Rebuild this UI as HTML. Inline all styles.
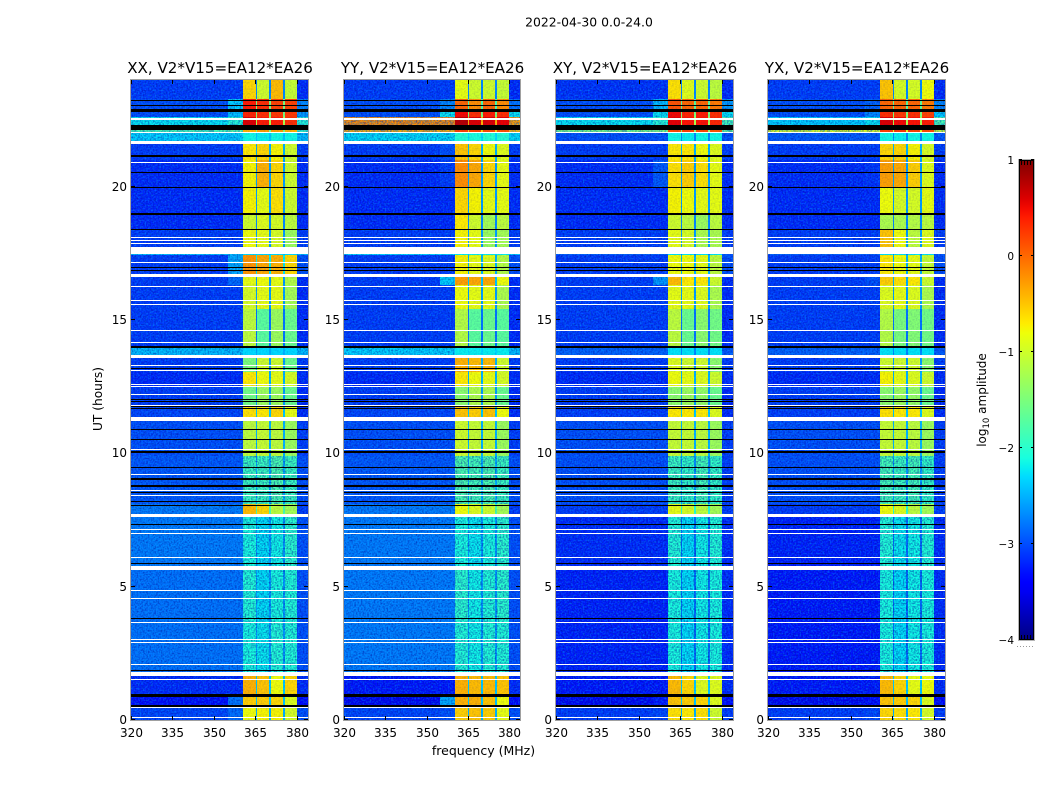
<!DOCTYPE html>
<html>
<head>
<meta charset="utf-8">
<title>2022-04-30 0.0-24.0</title>
<style>
html,body{margin:0;padding:0;background:#fff;}
svg{display:block;}
text{font-family:"DejaVu Sans","Liberation Sans",sans-serif;fill:#000;}
</style>
</head>
<body>
<svg id="chart" xmlns="http://www.w3.org/2000/svg" width="1050" height="800" viewBox="0 0 1050 800">
  <defs>
    <filter id="grain" x="0" y="0" width="100%" height="100%" color-interpolation-filters="sRGB">
      <feTurbulence type="fractalNoise" baseFrequency="0.62" numOctaves="1" seed="4"/>
      <feColorMatrix type="matrix" values="0 0 0 0 0  0 0 0 0 0.05  0 0 0 0 0.6  2.4 0 0 0 -0.95"/>
    </filter>
    <filter id="grain-light" x="0" y="0" width="100%" height="100%" color-interpolation-filters="sRGB">
      <feTurbulence type="fractalNoise" baseFrequency="0.6" numOctaves="1" seed="11"/>
      <feColorMatrix type="matrix" values="0 0 0 0 0  0 0 0 0 0.62  0 0 0 0 1  2.6 0 0 0 -1.15"/>
    </filter>
    <linearGradient id="jet-gradient" x1="0" y1="1" x2="0" y2="0"></linearGradient>
  </defs>
  <text x="589" y="26.5" font-size="12.4" text-anchor="middle">2022-04-30 0.0-24.0</text>
  <text x="483.5" y="755" font-size="12.5" text-anchor="middle">frequency (MHz)</text>
  <text transform="translate(102,399) rotate(-90)" font-size="12.2" text-anchor="middle">UT (hours)</text>
  <text transform="translate(986,400) rotate(-90)" font-size="12" text-anchor="middle">log<tspan font-size="8.5" dy="3">10</tspan><tspan dy="-3"> amplitude</tspan></text>
</svg>
<script>
// Data: UT edges of each block of rows (hours)
const rowEdges = [0,0.5,0.9,1.7,3.7,5.7,7.65,8.1,9.9,11.2,11.8,12.5,13.05,13.58,13.95,15.4,16.3,16.7,17.45,17.75,18.4,19,20,21,21.65,22.05,22.3,22.6,22.9,23.3,24];
// Data: frequency zones (MHz)
const zoneEdges = [320,355,360.5,365.1,365.6,369.9,370.6,374.9,375.7,380,384];
// Data: log10 amplitude per row: [background, shoulder, band1, band2, band3, band4, gap, right edge]
const xxValues = [
[-3.05,-2.85,-0.8,-0.75,-0.75,-0.95,-2.5,-3.0],
[-3.35,-2.8,-0.55,-0.55,-0.6,-0.9,-2.4,-3.4],
[-3.2,-3.2,-0.4,-0.5,-0.8,-0.6,-2.4,-3.2],
[-2.8,-2.8,-2.1,-2.2,-2.05,-2.05,-2.6,-3.0],
[-2.8,-2.8,-2.05,-2.25,-2.1,-2.05,-2.6,-3.0],
[-2.75,-2.75,-2.1,-2.25,-2.15,-2.0,-2.6,-3.0],
[-2.75,-2.75,-0.45,-0.6,-1.1,-1.25,-1.8,-3.1],
[-2.95,-2.95,-1.9,-1.9,-1.8,-1.9,-2.5,-3.0],
[-3.0,-3.0,-1.1,-1.05,-1.1,-1.3,-2.5,-3.1],
[-3.05,-3.05,-0.65,-0.7,-0.6,-0.85,-2.4,-3.2],
[-3.1,-3.1,-1.55,-1.3,-1.3,-1.6,-2.6,-3.2],
[-3.2,-3.2,-0.7,-0.8,-0.85,-0.95,-2.5,-3.2],
[-3.1,-3.1,-1.5,-1.0,-1.0,-1.6,-2.6,-3.1],
[-2.4,-2.4,-2.3,-2.3,-2.3,-2.3,-2.5,-2.4],
[-3.1,-3.1,-1.1,-1.7,-1.3,-1.6,-2.8,-3.2],
[-3.1,-3.1,-0.95,-0.85,-0.85,-1.25,-2.6,-3.2],
[-3.1,-2.85,-0.85,-0.8,-0.85,-1.15,-2.6,-3.2],
[-3.1,-2.5,-0.25,-0.35,-0.4,-0.6,-2.2,-3.0],
[-2.4,-2.4,-2.3,-2.3,-2.3,-2.3,-2.4,-2.4],
[-3.1,-3.1,-0.8,-0.85,-0.95,-1.3,-2.6,-3.1],
[-3.2,-3.2,-1.0,-0.9,-0.95,-1.1,-2.7,-3.2],
[-3.2,-3.2,-0.75,-0.85,-0.65,-1.0,-2.6,-3.2],
[-3.2,-3.2,-0.75,-0.4,-0.6,-1.0,-2.6,-3.2],
[-3.1,-3.1,-0.7,-0.6,-0.75,-1.0,-2.5,-3.1],
[-2.3,-2.3,-2.15,-2.2,-2.15,-2.15,-2.4,-2.4],
[-1.8,-1.7,-0.4,-0.3,-0.3,-0.4,-1.5,-1.9],
[-2.2,-2.0,0.6,0.4,0.4,0.3,-1.2,-2.0],
[-3.0,-2.4,0.35,0.3,0.25,0.25,-1.5,-2.6],
[-3.0,-2.3,0.4,0.3,0.2,0.2,-1.5,-2.7],
[-3.1,-3.1,-0.6,-1.0,-0.45,-1.05,-2.7,-3.2]
];
const yyValues = [
[-3.05,-3.0,-0.55,-0.5,-0.55,-0.85,-2.5,-3.0],
[-3.5,-2.5,-0.4,-0.4,-0.5,-0.8,-2.4,-3.4],
[-3.3,-3.3,-0.4,-0.45,-0.45,-0.5,-2.4,-3.2],
[-2.75,-2.75,-2.05,-2.15,-2.05,-2.05,-2.6,-3.0],
[-2.75,-2.75,-2.0,-2.15,-2.05,-2.0,-2.6,-3.0],
[-2.75,-2.75,-2.1,-2.2,-2.1,-2.0,-2.6,-3.0],
[-2.75,-2.75,-0.8,-0.9,-1.0,-1.25,-1.8,-3.1],
[-2.95,-2.95,-1.8,-1.85,-1.8,-1.9,-2.5,-3.0],
[-3.0,-3.0,-1.0,-1.05,-1.05,-1.3,-2.5,-3.1],
[-3.05,-3.05,-0.5,-0.55,-0.5,-0.8,-2.4,-3.2],
[-3.1,-3.1,-1.4,-1.2,-1.2,-1.6,-2.6,-3.2],
[-3.2,-3.2,-0.7,-0.8,-0.85,-0.95,-2.5,-3.2],
[-3.1,-3.1,-0.4,-0.45,-0.45,-1.0,-2.5,-3.1],
[-2.3,-2.3,-2.2,-2.2,-2.2,-2.2,-2.3,-2.4],
[-3.1,-3.1,-1.15,-1.7,-1.6,-1.7,-2.8,-3.2],
[-3.1,-3.1,-0.8,-0.85,-0.85,-1.2,-2.6,-3.2],
[-3.1,-2.3,-0.3,-0.35,-0.35,-0.8,-2.4,-3.2],
[-3.1,-3.1,-0.75,-0.85,-0.9,-1.15,-2.5,-3.0],
[-2.3,-2.3,-2.2,-2.2,-2.2,-2.2,-2.3,-2.3],
[-3.1,-3.1,-0.75,-0.85,-1.3,-1.25,-2.6,-3.1],
[-3.2,-3.2,-0.7,-1.0,-1.25,-1.1,-2.7,-3.2],
[-3.2,-3.2,-0.6,-0.75,-0.85,-0.85,-2.6,-3.2],
[-3.2,-3.1,-0.2,-0.35,-0.6,-0.85,-2.6,-3.2],
[-3.1,-3.0,-0.5,-0.6,-0.8,-0.9,-2.5,-3.1],
[-2.25,-2.25,-2.05,-2.1,-2.05,-2.05,-2.3,-2.25],
[-0.35,-0.35,0.2,0.2,0.15,0.1,-0.6,-0.4],
[-0.2,-0.2,0.75,0.6,0.6,0.55,-0.4,-0.3],
[-3.0,-2.2,0.5,0.3,0.4,0.3,-1.5,-2.2],
[-3.0,-2.7,0.0,-0.2,0.0,-0.2,-1.8,-2.8],
[-3.1,-3.1,-0.85,-1.0,-1.0,-1.05,-2.7,-3.2]
];
const xyValues = [
[-3.1,-3.05,-0.65,-0.7,-0.65,-1.0,-2.5,-3.1],
[-3.5,-3.3,-0.5,-0.55,-0.6,-0.9,-2.4,-3.4],
[-3.3,-3.3,-0.45,-0.6,-0.9,-0.9,-2.4,-3.2],
[-3.25,-3.25,-2.1,-2.25,-2.15,-2.1,-2.8,-3.2],
[-3.25,-3.25,-2.1,-2.25,-2.15,-2.1,-2.8,-3.2],
[-3.2,-3.2,-2.05,-2.25,-2.15,-2.05,-2.8,-3.2],
[-3.1,-3.1,-0.85,-0.95,-1.1,-1.25,-2.0,-3.1],
[-3.0,-3.0,-1.9,-1.95,-1.85,-1.95,-2.6,-3.1],
[-3.0,-3.0,-1.05,-1.05,-1.1,-1.3,-2.5,-3.1],
[-3.1,-3.1,-0.7,-0.7,-0.7,-0.9,-2.4,-3.2],
[-3.1,-3.1,-1.4,-1.3,-1.35,-1.6,-2.6,-3.2],
[-3.2,-3.2,-0.8,-0.85,-0.9,-1.0,-2.5,-3.2],
[-3.1,-3.1,-0.9,-1.0,-1.0,-1.4,-2.6,-3.1],
[-2.9,-2.9,-2.25,-2.25,-2.25,-2.25,-2.7,-2.95],
[-3.1,-3.1,-1.1,-1.6,-1.4,-1.55,-2.8,-3.2],
[-3.1,-3.1,-0.85,-0.85,-0.9,-1.2,-2.6,-3.2],
[-3.1,-2.6,-0.45,-0.7,-0.7,-1.0,-2.5,-3.2],
[-3.1,-3.1,-0.8,-0.8,-0.85,-1.1,-2.5,-3.0],
[-2.9,-2.9,-2.25,-2.25,-2.25,-2.25,-2.7,-2.95],
[-3.1,-3.1,-0.85,-0.95,-1.2,-1.2,-2.6,-3.1],
[-3.2,-3.2,-1.0,-1.1,-1.3,-1.1,-2.7,-3.2],
[-3.2,-3.2,-0.75,-0.8,-0.85,-0.85,-2.6,-3.2],
[-3.2,-2.95,-0.65,-0.55,-0.65,-0.85,-2.6,-3.2],
[-3.1,-3.1,-0.7,-0.7,-0.8,-0.9,-2.5,-3.1],
[-3.0,-3.0,-2.15,-2.2,-2.15,-2.15,-2.7,-3.0],
[-1.5,-1.45,0.15,0.2,0.15,0.1,-1.4,-1.6],
[-2.2,-2.0,0.55,0.45,0.45,0.35,-1.2,-1.8],
[-3.0,-2.2,0.5,0.35,0.4,0.3,-1.5,-2.2],
[-3.0,-2.4,0.1,0.0,0.0,-0.1,-1.7,-2.6],
[-3.15,-3.15,-0.65,-0.9,-1.0,-1.1,-2.7,-3.2]
];
const yxValues = [
[-3.1,-3.05,-0.6,-0.65,-0.7,-0.95,-2.5,-3.1],
[-3.5,-3.4,-0.5,-0.55,-0.6,-0.9,-2.4,-3.4],
[-3.3,-3.3,-0.45,-0.6,-0.85,-0.8,-2.4,-3.2],
[-3.3,-3.3,-2.1,-2.25,-2.15,-2.1,-2.8,-3.2],
[-3.3,-3.3,-2.1,-2.25,-2.15,-2.1,-2.8,-3.2],
[-3.25,-3.25,-2.05,-2.2,-2.15,-2.05,-2.8,-3.2],
[-3.1,-3.1,-0.8,-0.9,-1.1,-1.25,-2.0,-3.1],
[-3.0,-3.0,-1.85,-1.9,-1.85,-1.95,-2.6,-3.1],
[-3.0,-3.0,-1.05,-1.05,-1.1,-1.3,-2.5,-3.1],
[-3.1,-3.1,-0.65,-0.7,-0.7,-0.9,-2.4,-3.2],
[-3.1,-3.1,-1.4,-1.3,-1.35,-1.6,-2.6,-3.2],
[-3.2,-3.2,-0.75,-0.85,-0.9,-1.0,-2.5,-3.2],
[-3.1,-3.1,-1.0,-1.0,-1.0,-1.4,-2.6,-3.1],
[-2.9,-2.9,-2.25,-2.25,-2.25,-2.25,-2.7,-2.95],
[-3.1,-3.1,-1.15,-1.5,-1.45,-1.55,-2.8,-3.2],
[-3.1,-3.1,-0.9,-0.85,-0.9,-1.2,-2.6,-3.2],
[-3.1,-3.0,-0.55,-0.65,-0.7,-1.0,-2.5,-3.2],
[-3.1,-3.1,-0.7,-0.8,-0.85,-1.05,-2.5,-3.0],
[-2.9,-2.9,-2.25,-2.25,-2.25,-2.25,-2.7,-2.95],
[-3.1,-3.1,-0.5,-0.8,-1.1,-0.9,-2.6,-3.1],
[-3.2,-3.2,-1.2,-1.2,-1.15,-1.1,-2.7,-3.2],
[-3.2,-3.2,-0.8,-0.95,-0.95,-0.85,-2.6,-3.2],
[-3.2,-3.15,-0.3,-0.35,-0.55,-0.9,-2.6,-3.2],
[-3.1,-3.1,-0.6,-0.6,-0.75,-0.95,-2.5,-3.1],
[-2.95,-2.95,-2.15,-2.2,-2.15,-2.15,-2.7,-2.95],
[-0.9,-0.9,0.2,0.25,0.2,0.15,-0.9,-1.0],
[-2.3,-2.2,0.6,0.5,0.45,0.4,-1.2,-1.8],
[-3.0,-2.7,0.3,0.25,0.3,0.2,-1.5,-2.3],
[-3.0,-2.9,0.0,0.0,0.0,-0.1,-1.7,-2.7],
[-3.1,-3.1,-0.5,-0.95,-0.95,-0.8,-2.7,-3.2]
];
// Data: flagged time ranges, UT hours [start, end]
const whiteFlags = [[0.075,0.1125],[0.45,0.4875],[1.5,1.5375],[1.65,1.8],[2.0625,2.1],[2.8875,2.925],[3.0,3.0375],[3.6375,3.675],[4.5375,4.575],[4.8375,4.875],[5.625,5.775],[6.075,6.1125],[6.975,7.0125],[7.125,7.1625],[7.6125,7.725],[8.4,8.4375],[8.5875,8.625],[9.1875,9.225],[10.125,10.1625],[11.2125,11.3625],[11.775,11.8125],[12.1875,12.225],[12.4875,12.525],[12.5625,12.6],[13.0875,13.125],[13.275,13.3125],[13.575,13.6875],[14.1375,14.175],[14.5875,14.625],[15.5625,15.6],[15.7125,15.75],[16.2375,16.275],[16.6125,16.725],[17.1375,17.175],[17.475,17.7375],[17.85,17.8875],[17.9625,18.0],[18.075,18.1125],[20.8875,20.925],[21.6,21.7125],[22.0125,22.05],[22.5,22.575]];
const blackFlags = [[0.4875,0.5625],[0.8625,0.975],[1.8375,1.875],[3.7875,3.825],[5.85,5.8875],[7.3125,7.35],[8.025,8.0625],[8.175,8.2125],[8.5125,8.55],[8.7375,8.8],[9.0,9.075],[9.45,9.4875],[10.0125,10.0875],[10.5,10.5375],[10.875,10.9125],[11.6625,11.7],[11.7375,11.775],[11.925,11.9625],[12.0,12.0375],[13.1625,13.2],[13.95,14.025],[16.8375,16.875],[16.95,16.9875],[18.375,18.4125],[18.94,19.0],[19.95,19.9875],[20.5125,20.55],[21.1,21.175],[22.125,22.3125],[22.81,22.9125],[23.025,23.0625],[23.2125,23.25]];
// Data: UT ranges where the band signal is weak and visibly noisy
const noisyRanges = [[1.7,7.65],[8.1,9.9]];
// Data: axis tick labels
const freqTicks = [320,335,350,365,380];
const utTicks = [0,5,10,15,20];
const colorTicks = [-4,-3,-2,-1,0,1];
const panelTitles = ["XX, V2*V15=EA12*EA26","YY, V2*V15=EA12*EA26","XY, V2*V15=EA12*EA26","YX, V2*V15=EA12*EA26"];
const panelValues = [xxValues,yyValues,xyValues,yxValues];
const panelKeys = ["xx","yy","xy","yx"];

// Layout
const panelLefts = [131,344,556,768];
const panelWidths = [177,176,177,177];
const panelTop = 80, panelBottom = 720;
const colorbarLeft = 1019, colorbarRight = 1034, colorbarTop = 160, colorbarBottom = 640;
const svgRoot = document.getElementById('chart');
const NS = 'http://www.w3.org/2000/svg';

function xScale(left, width, mhz){ return left + (mhz - 320) * width / 64; }
function yScale(ut){ return panelBottom - ut * (panelBottom - panelTop) / 24; }
function colorY(v){ return colorbarBottom - (v + 4) * (colorbarBottom - colorbarTop) / 5; }
function lerpStops(stops, f){
  for (let i = 1; i < stops.length; i++) {
    if (f <= stops[i][0]) {
      const a = stops[i-1], b = stops[i];
      return a[1] + (b[1] - a[1]) * (f - a[0]) / (b[0] - a[0]);
    }
  }
  return stops[stops.length-1][1];
}
const jetR = [[0,0],[0.35,0],[0.66,1],[0.89,1],[1,0.5]];
const jetG = [[0,0],[0.125,0],[0.375,1],[0.64,1],[0.91,0],[1,0]];
const jetB = [[0,0.5],[0.11,1],[0.34,1],[0.65,0],[1,0]];
function jet(v){
  const f = Math.max(0, Math.min(1, (v + 4) / 5));
  const c = s => Math.round(255 * lerpStops(s, f));
  return 'rgb(' + c(jetR) + ',' + c(jetG) + ',' + c(jetB) + ')';
}
function put(tag, parent, attrs){
  const el = document.createElementNS(NS, tag);
  for (const k in attrs) el.setAttribute(k, attrs[k]);
  parent.appendChild(el);
  return el;
}
// maps a zone index to a column of a value row
function zoneColumn(z){ return [0,1,2,6,3,6,4,6,5,7][z]; }
const zoneNames = ['background','shoulder','band-1','gap-1','band-2','gap-2','band-3','gap-3','band-4','right-edge'];

panelValues.forEach(function(values, p){
  const left = panelLefts[p];
  const width = panelWidths[p];
  const key = panelKeys[p];
  const group = put('g', svgRoot, {'shape-rendering':'crispEdges'});
  
  

  const heat = put('g', group, {});
  
  
  values.forEach(function(row, r){
    const yTop = Math.round(yScale(rowEdges[r+1]));
    const yBot = Math.round(yScale(rowEdges[r]));
    for (let z = 0; z < zoneEdges.length - 1; z++) {
      const x0 = Math.round(xScale(left, width, zoneEdges[z]));
      const x1 = Math.round(xScale(left, width, zoneEdges[z+1]));
      const cell = put('rect', heat, {x:x0, y:yTop, width:x1-x0, height:yBot-yTop, fill:jet(row[zoneColumn(z)])});
      
      
    }
  });

  const bandLeft = Math.round(xScale(left, width, zoneEdges[2]));
  const bandRight = Math.round(xScale(left, width, zoneEdges[9]));
  const panelHeight = panelBottom - panelTop;

  const darkLeft = put('rect', group, {x:left, y:panelTop, width:bandLeft-left, height:panelHeight, filter:'url(#grain)', opacity:'0.6'});
  
  
  const darkRight = put('rect', group, {x:bandRight, y:panelTop, width:left+width-bandRight, height:panelHeight, filter:'url(#grain)', opacity:'0.6'});
  
  
  const bandTexture = put('rect', group, {x:bandLeft, y:panelTop, width:bandRight-bandLeft, height:panelHeight, filter:'url(#grain)', opacity:'0.16'});
  
  
  noisyRanges.forEach(function(range){
    const y0 = Math.round(yScale(range[1]));
    const y1 = Math.round(yScale(range[0]));
    const noisy = put('rect', group, {x:bandLeft, y:y0, width:bandRight-bandLeft, height:y1-y0, filter:'url(#grain)', opacity:'0.5'});
    
    
  });
  const lightLeft = put('rect', group, {x:left, y:panelTop, width:bandLeft-left, height:panelHeight, filter:'url(#grain-light)', opacity:'0.55'});
  
  
  const lightRight = put('rect', group, {x:bandRight, y:panelTop, width:left+width-bandRight, height:panelHeight, filter:'url(#grain-light)', opacity:'0.55'});
  
  

  whiteFlags.forEach(function(f){
    const y0 = Math.round(yScale(f[1]));
    const y1 = Math.round(yScale(f[0]));
    const line = put('rect', group, {x:left, y:y0, width:width, height:Math.max(1,y1-y0), fill:'#fff'});
    
    
  });
  blackFlags.forEach(function(f){
    const y0 = Math.round(yScale(f[1]));
    const y1 = Math.round(yScale(f[0]));
    const line = put('rect', group, {x:left, y:y0, width:width, height:Math.max(1,y1-y0), fill:'#000'});
    
    
  });

  const outer = put('rect', group, {x:left-0.5, y:panelTop-0.5, width:width+1, height:panelHeight+1, fill:'none', stroke:'#a0a0a0', 'stroke-width':1});
  
  

  const title = put('text', svgRoot, {x:left+width/2+0.5, y:73, 'font-size':'15.1', 'text-anchor':'middle'});
  
  
  title.textContent = panelTitles[p];

  freqTicks.forEach(function(t){
    const x = Math.round(xScale(left, width, t)) + 0.5;
    const tb = put('line', group, {x1:x, x2:x, y1:panelBottom, y2:panelBottom-4, stroke:'#000'});
    
    
    const tt = put('line', group, {x1:x, x2:x, y1:panelTop, y2:panelTop+4, stroke:'#000'});
    
    
    const lab = put('text', svgRoot, {x:x, y:737, 'font-size':'12', 'text-anchor':'middle'});
    
    
    lab.textContent = t;
  });
  utTicks.forEach(function(t){
    const y = Math.round(yScale(t)) - 0.5;
    const tl = put('line', group, {x1:left, x2:left+4, y1:y, y2:y, stroke:'#000'});
    
    
    const tr = put('line', group, {x1:left+width, x2:left+width-4, y1:y, y2:y, stroke:'#000'});
    
    
    const lab = put('text', svgRoot, {x:left-4, y:y+4.5, 'font-size':'12', 'text-anchor':'end'});
    
    
    lab.textContent = t;
  });
});

// Colorbar
const gradient = document.getElementById('jet-gradient');
for (let i = 0; i <= 50; i++) {
  const stop = put('stop', gradient, {offset:(i*2)+'%', 'stop-color':jet(-4 + i/10)});
}
const cbGroup = put('g', svgRoot, {'shape-rendering':'crispEdges'});


const cbFill = put('rect', cbGroup, {x:colorbarLeft, y:colorbarTop, width:colorbarRight-colorbarLeft, height:colorbarBottom-colorbarTop, fill:'url(#jet-gradient)'});


const cbFrame = put('rect', cbGroup, {x:colorbarLeft+0.5, y:colorbarTop+0.5, width:colorbarRight-colorbarLeft-1, height:colorbarBottom-colorbarTop-1, fill:'none', stroke:'#000'});


const cbOuter = put('rect', cbGroup, {x:colorbarLeft-0.5, y:colorbarTop-0.5, width:colorbarRight-colorbarLeft+1, height:colorbarBottom-colorbarTop+1, fill:'none', stroke:'#b5b5b5'});


colorTicks.forEach(function(v){
  const y = colorY(v);
  const lab = put('text', svgRoot, {x:colorbarLeft-5, y:y+4, 'font-size':'10.5', 'text-anchor':'end'});
  
  
  lab.textContent = String(v).replace('-', '\u2212');
  const tl = put('line', cbGroup, {x1:colorbarLeft, x2:colorbarLeft+3, y1:Math.round(y)-0.5, y2:Math.round(y)-0.5, stroke:'#000'});
  
  
  const tr = put('line', cbGroup, {x1:colorbarRight, x2:colorbarRight-3, y1:Math.round(y)-0.5, y2:Math.round(y)-0.5, stroke:'#000'});
  
  
});
[1021.5,1024.5,1027.5,1030.5].forEach(function(x){
  const tickTop = put('line', cbGroup, {x1:x, x2:x, y1:colorbarTop, y2:colorbarTop+5, stroke:'#000'});
  
  
  const tickBottom = put('line', cbGroup, {x1:x, x2:x, y1:colorbarBottom, y2:colorbarBottom-5, stroke:'#000'});
  
  
});
const cbDots = put('line', cbGroup, {x1:1017, x2:1035, y1:646.5, y2:646.5, stroke:'#999', 'stroke-dasharray':'1 2'});


</script>
</body>
</html>
